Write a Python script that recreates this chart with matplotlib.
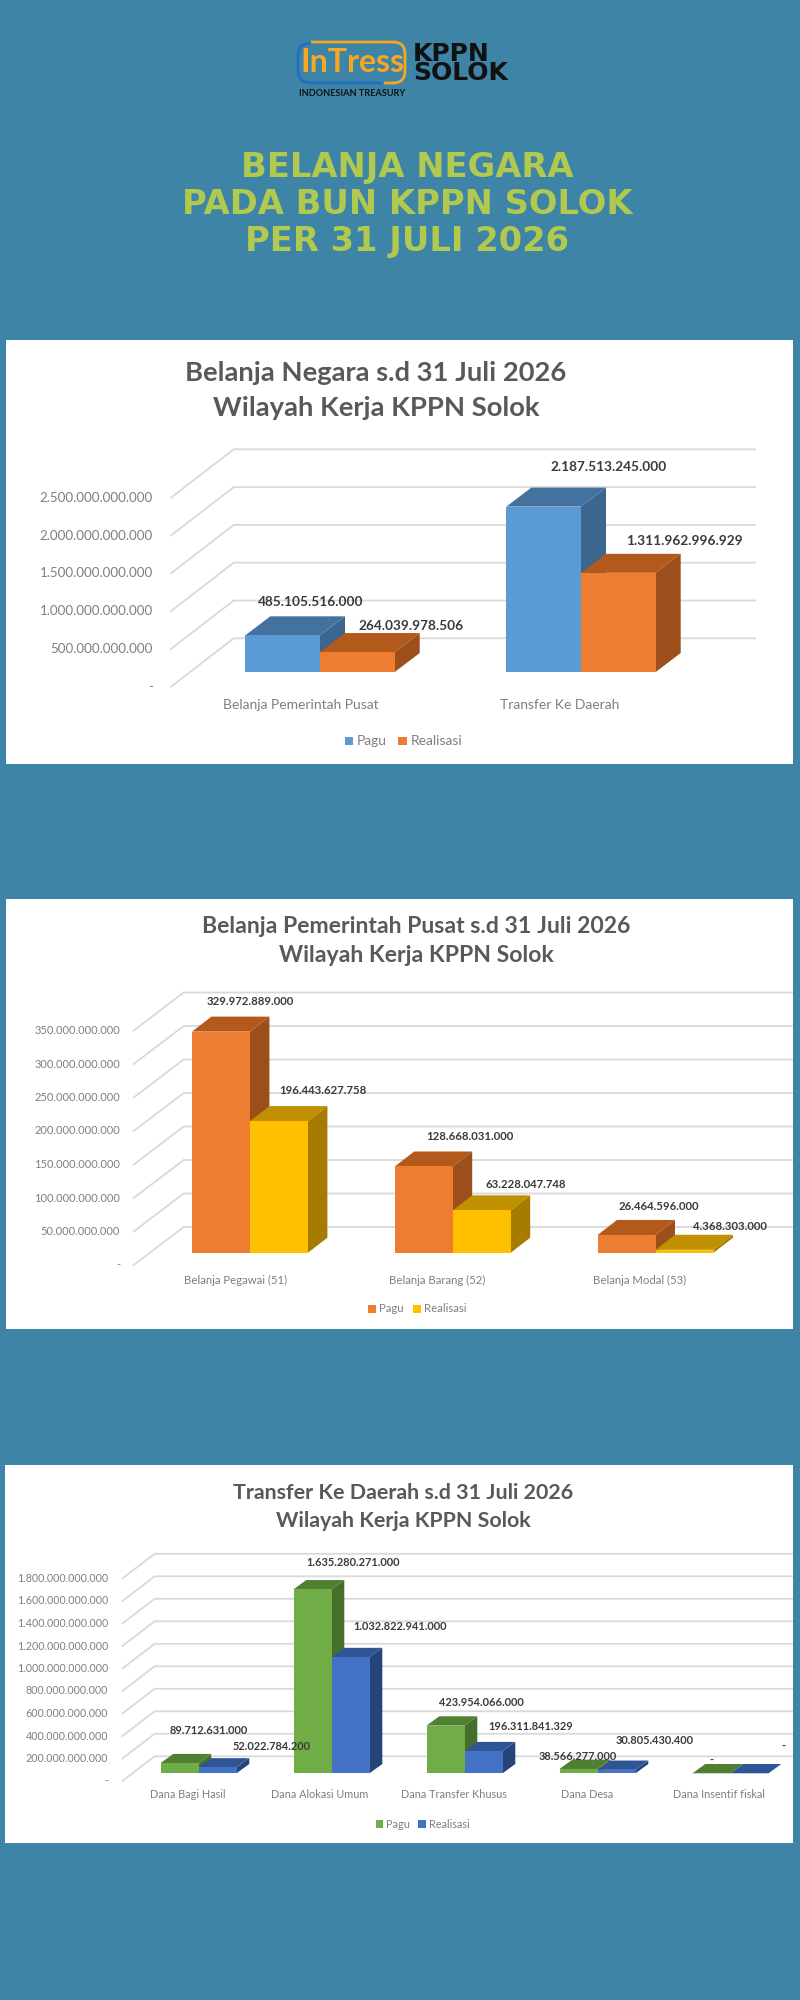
import matplotlib
matplotlib.use("Agg")
import matplotlib.pyplot as plt
from matplotlib.patches import Rectangle, PathPatch
from matplotlib.path import Path

W, H = 800, 2000
BG = "#3E84A6"
FONT = "Lato"

# panel 1
cats1 = ["Belanja Pemerintah Pusat", "Transfer Ke Daerah"]
pagu1 = [485105516000, 2187513245000]
real1 = [264039978506, 1311962996929]
ticks1 = [0, 500000000000, 1000000000000, 1500000000000, 2000000000000, 2500000000000]

# panel 2
cats2 = ["Belanja Pegawai (51)", "Belanja Barang (52)", "Belanja Modal (53)"]
pagu2 = [329972889000, 128668031000, 26464596000]
real2 = [196443627758, 63228047748, 4368303000]
ticks2 = [0, 50000000000, 100000000000, 150000000000, 200000000000, 250000000000, 300000000000, 350000000000]

# panel 3
cats3 = ["Dana Bagi Hasil", "Dana Alokasi Umum", "Dana Transfer Khusus", "Dana Desa", "Dana Insentif fiskal"]
pagu3 = [89712631000, 1635280271000, 423954066000, 38566277000, 0]
real3 = [52022784200, 1032822941000, 196311841329, 30805430400, 0]
ticks3 = [0, 200000000000, 400000000000, 600000000000, 800000000000, 1000000000000,
          1200000000000, 1400000000000, 1600000000000, 1800000000000]


def rupiah(v):
    # dots as thousand separator, dash for zero
    return "-" if v == 0 else f"{v:,}".replace(",", ".")


def ptext(x, y, s, **kw):
    kw.setdefault("family", FONT)
    kw.setdefault("va", "center")
    return fig.text(x / W, 1 - y / H, s, **kw)


def swatch(x0, x1, y, h, color):
    fig.add_artist(Rectangle((x0 / W, 1 - (y + h / 2) / H), (x1 - x0) / W, h / H,
                             transform=fig.transFigure, color=color, lw=0))


def panel(box, cats, pagu, real, ticks, colors, geo, title, legend, label_pos, sizes):
    x0, y0, x1, y1 = box
    c0, spacing, base, per_val, bar_w = geo["c0"], geo["spacing"], geo["base"], geo["per_val"], geo["bar_w"]
    ax = fig.add_axes([x0 / W, 1 - y1 / H, (x1 - x0) / W, (y1 - y0) / H])
    ax.set_facecolor("white")
    ax.set_xlim((x0 - c0) / spacing, (x1 - c0) / spacing)
    ax.set_ylim((base - y1) / per_val, (base - y0) / per_val)
    ax.set_xticks([])
    ax.set_yticks([])
    for s in ax.spines.values():
        s.set_visible(False)

    px = lambda x: (x - c0) / spacing
    py = lambda y: (base - y) / per_val
    off_back = py(geo["back_y"])
    off_front = py(geo["front_y"])
    fx, bx, rx = px(geo["front_x"]), px(geo["back_x"]), px(geo["right_x"])
    w = bar_w / spacing
    dx, dy = geo["dx"] / spacing, geo["dy"] / per_val

    # wall gridlines and the slanted side wall lines
    for t in ticks:
        ax.plot([fx, bx, rx], [t + off_front, t + off_back, t + off_back],
                color="#D9D9D9", lw=1.3, zorder=1, solid_joinstyle="miter")
        ax.text(px(geo["tick_x"]), t + off_front, rupiah(t), ha="right", va="center",
                color="#7F7F7F", family=FONT, fontsize=sizes["tick"], zorder=5)

    # fake 3d columns, left to right
    z = 2
    for i in range(len(cats)):
        for j, (vals, col) in enumerate(zip((pagu, real), colors)):
            left = i - w + j * w
            v = vals[i]
            front, top, side = col
            ax.fill([left + w, left + w + dx, left + w + dx, left + w],
                    [0, dy, v + dy, v], color=side, lw=0, zorder=z)
            ax.fill([left, left + dx, left + w + dx, left + w],
                    [v, v + dy, v + dy, v], color=top, lw=0, zorder=z)
            ax.bar(left + w / 2, v, width=w, color=front, lw=0, zorder=z)
            z += 1

    for cx, name in zip(geo["cat_x"], cats):
        ptext(cx, geo["cat_y"], name, ha="center", color="#7F7F7F", fontsize=sizes["cat"])

    labels = [rupiah(v) for pair in zip(pagu, real) for v in pair]
    for (lx, ly), s in zip(label_pos, labels):
        ptext(lx, ly, s, ha="center", color="#3A3A3A", fontweight="bold", fontsize=sizes["label"])

    ptext(title[0], title[1], title[3], ha="center", color="#595959", fontweight="bold", fontsize=sizes["title"])
    ptext(title[0], title[2], "Wilayah Kerja KPPN Solok", ha="center", color="#595959",
          fontweight="bold", fontsize=sizes["title"])

    swatch(legend[0], legend[1], legend[2], 8, colors[0][0])
    ptext(legend[3], legend[2], "Pagu", color="#7F7F7F", fontsize=sizes["cat"])
    swatch(legend[4], legend[5], legend[2], 8, colors[1][0])
    ptext(legend[6], legend[2], "Realisasi", color="#7F7F7F", fontsize=sizes["cat"])


fig = plt.figure(figsize=(W / 100, H / 100), dpi=100, facecolor=BG)

# logo, drawn in an axes that runs in picture pixels
logo = fig.add_axes([0, 1 - 110 / H, 1, 110 / H])
logo.set_xlim(0, W)
logo.set_ylim(110, 0)
logo.axis("off")
M, L, C = Path.MOVETO, Path.LINETO, Path.CURVE3
logo.add_patch(PathPatch(Path([(311, 43), (298, 43), (298, 56), (298, 70), (298, 83), (311, 83), (382, 83)],
                              [M, C, C, L, C, C, L]), fc="none", ec="#1F6FC4", lw=2))
logo.add_patch(PathPatch(Path([(311, 42), (393, 42), (405, 42), (405, 54), (405, 71), (405, 83), (393, 83), (384, 83)],
                              [M, L, C, C, L, C, C, L]), fc="none", ec="#F5A623", lw=2))
ptext(352, 63, "InTress", ha="center", color="#F5A623", fontweight="bold", fontsize=23)
ptext(413, 54, "KPPN", color="#111111", family="DejaVu Sans", fontweight="bold", fontsize=18)
ptext(413, 73, "SOLOK", color="#111111", family="DejaVu Sans", fontweight="bold", fontsize=18)
ptext(352, 94, "INDONESIAN TREASURY", ha="center", color="#111111", fontweight="bold", fontsize=6.6)

# heading
for y, s in zip((168, 205, 241), ("BELANJA NEGARA", "PADA BUN KPPN SOLOK", "PER 31 JULI 2026")):
    ptext(407, y, s, ha="center", color="#B1C94F", family="DejaVu Sans", fontweight="bold", fontsize=24.3)

blue = ("#5B9BD5", "#44729F", "#3A6690")
orange = ("#ED7D31", "#B3591C", "#9C4F1B")
yellow = ("#FFC000", "#C09000", "#A67C00")
green = ("#70AD47", "#4F7F30", "#466F2C")
navy = ("#4472C4", "#2F5597", "#264478")

panel((6, 340, 793, 764), cats1, pagu1, real1, ticks1, (blue, orange),
      dict(c0=320, spacing=261, base=672, per_val=37.8 / 500e9, bar_w=74.7, dx=25, dy=19,
           back_y=638.3, front_y=686.7, front_x=171, back_x=233.7, right_x=755, tick_x=153,
           cat_x=[301, 560], cat_y=705),
      (376, 373, 408, "Belanja Negara s.d 31 Juli 2026"),
      (345, 353, 741, 357, 398, 407, 411),
      [(311, 602), (411, 626), (609, 467), (684, 541)],
      dict(tick=9.6, cat=10, label=9.8, title=19.7))

panel((6, 899, 793, 1329), cats2, pagu2, real2, ticks2, (orange, yellow),
      dict(c0=250, spacing=202.8, base=1252.7, per_val=33.5 / 50e9, bar_w=58, dx=19.4, dy=15,
           back_y=1227, front_y=1265, front_x=133.7, back_x=183.7, right_x=792, tick_x=120,
           cat_x=[235.7, 437, 640], cat_y=1280),
      (416, 926, 956, "Belanja Pemerintah Pusat s.d 31 Juli 2026"),
      (368, 376, 1309, 379, 413, 421, 423.5),
      [(250.5, 1001.7), (322.4, 1091), (470, 1137), (526, 1184), (658.7, 1206), (729.6, 1227)],
      dict(tick=8, cat=8.2, label=8.2, title=16.55))

panel((5, 1465, 793, 1843), cats3, pagu3, real3, ticks3, (green, navy),
      dict(c0=198.5, spacing=133, base=1773.3, per_val=22.5 / 200e9, bar_w=38, dx=12.8, dy=9.3,
           back_y=1756.3, front_y=1781, front_x=122.4, back_x=154.6, right_x=793, tick_x=108,
           cat_x=[187.8, 320, 454, 586.7, 719.4], cat_y=1795),
      (403, 1492.7, 1520.7, "Transfer Ke Daerah s.d 31 Juli 2026"),
      (376, 383, 1824, 386, 418, 425.5, 428.6),
      [(209, 1731), (271.4, 1746), (352.6, 1563), (400, 1627), (481.6, 1702), (531, 1727),
       (578, 1756), (654.6, 1740), (711.7, 1760.7), (783, 1746.7)],
      dict(tick=7.7, cat=7.8, label=7.9, title=15.4))

fig.savefig("out.png", dpi=100, facecolor=BG)
plt.close()
